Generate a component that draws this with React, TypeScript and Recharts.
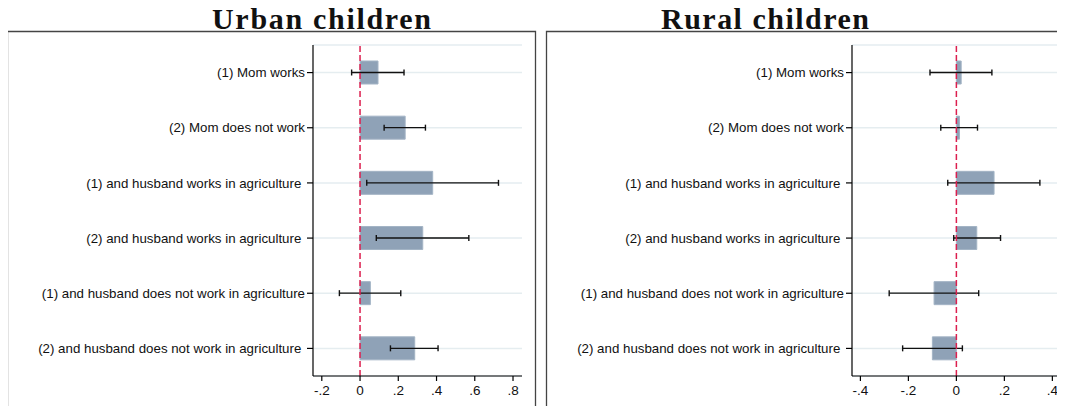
import React from 'react'
import {
  BarChart, Bar, XAxis, YAxis, CartesianGrid, ReferenceLine, ErrorBar
} from 'recharts'

// ── Data ─────────────────────────────────────────────────────────────────────
const categories = [
  '(1) Mom works',
  '(2) Mom does not work',
  '(1) and husband works in agriculture ',
  '(2) and husband works in agriculture ',
  '(1) and husband does not work in agriculture',
  '(2) and husband does not work in agriculture ',
]

const urbanCoef = [0.094, 0.236, 0.38, 0.328, 0.054, 0.286]
const urbanLow = [-0.044, 0.126, 0.035, 0.085, -0.108, 0.159]
const urbanHigh = [0.23, 0.342, 0.724, 0.569, 0.213, 0.408]

const ruralCoef = [0.02, 0.013, 0.157, 0.085, -0.093, -0.1]
const ruralLow = [-0.11, -0.065, -0.036, -0.011, -0.28, -0.224]
const ruralHigh = [0.148, 0.088, 0.348, 0.184, 0.093, 0.025]

const urbanTicks = [-0.2, 0, 0.2, 0.4, 0.6, 0.8]
const ruralTicks = [-0.4, -0.2, 0, 0.2, 0.4]

const buildRows = (coef: number[], low: number[], high: number[]) =>
  categories.map((label, i) => ({
    label,
    coef: coef[i],
    err: [coef[i] - low[i], high[i] - coef[i]],
  }))

const urbanRows = buildRows(urbanCoef, urbanLow, urbanHigh)
const ruralRows = buildRows(ruralCoef, ruralLow, ruralHigh)

const SANS = '"Liberation Sans", Arial, sans-serif'
const SERIF = '"Liberation Serif", serif'

// Stata style: ".2", "-.4", "0"
const fmt = (v: number) => {
  if (v === 0) return '0'
  const s = Math.abs(v).toFixed(1).replace(/^0/, '')
  return v < 0 ? '-' + s : s
}

const CatTick = ({ x, y, payload }: any) => (
  <text x={x} y={y} dy="0.355em" textAnchor="end" fontSize={13.3} fontFamily={SANS}
    fill="#111" style={{ whiteSpace: 'pre' }}>
    {payload.value}
  </text>
)

interface PanelProps {
  rows: any[]
  domain: [number, number]
  ticks: number[]
  width: number
  axisWidth: number
  right: number
}

function CoefPanel({ rows, domain, ticks, width, axisWidth, right }: PanelProps) {
  return (
    <BarChart width={width} height={414} layout="vertical" data={rows} barSize={23}
      margin={{ top: 45, right, bottom: 0, left: 0 }}>
      <CartesianGrid vertical={false} stroke="#e5edf0" strokeWidth={1.5} />
      <XAxis type="number" domain={domain} ticks={ticks} interval={0} height={38}
        tickSize={5} tickMargin={4} tickFormatter={fmt}
        axisLine={{ stroke: '#000', strokeWidth: 1.2 }} tickLine={{ stroke: '#000', strokeWidth: 1.2 }}
        tick={{ fontSize: 13.5, fill: '#111', fontFamily: SANS }} />
      <YAxis type="category" dataKey="label" width={axisWidth} interval={0}
        tickSize={6} tickMargin={2} tick={<CatTick />}
        axisLine={{ stroke: '#000', strokeWidth: 1.2 }} tickLine={{ stroke: '#000', strokeWidth: 1.2 }} />
      <Bar dataKey="coef" fill="#8fa2b7" stroke="#a3b4c5" strokeWidth={1} isAnimationActive={false}>
        <ErrorBar dataKey="err" direction="x" width={3} stroke="#111" strokeWidth={1.4} />
      </Bar>
      <ReferenceLine x={0} stroke="#dc1f4f" strokeWidth={1.5} strokeDasharray="6 3" />
    </BarChart>
  )
}

export default function App() {
  return (
    <div style={{ position: 'relative', width: 1065, height: 414, margin: -8, overflow: 'hidden', background: '#fff' }}>
      {/* panel frames and titles */}
      <svg width={1065} height={414} style={{ position: 'absolute', left: 0, top: 0 }}>
        <path d="M7.5 420 V31.5 H535.5 V420" fill="none" stroke="#444" strokeWidth={1.3} />
        <path d="M546.5 420 V31.5 H1070" fill="none" stroke="#444" strokeWidth={1.3} />
        <text x={212} y={28.5} fontSize={30} fontWeight="bold" fontFamily={SERIF}
          fill="#111" textLength={219} lengthAdjust="spacing">Urban children</text>
        <text x={661} y={28.5} fontSize={30} fontWeight="bold" fontFamily={SERIF}
          fill="#111" textLength={208} lengthAdjust="spacing">Rural children</text>
      </svg>
      <div style={{ position: 'absolute', left: 0, top: 0 }}>
        <CoefPanel rows={urbanRows} domain={[-0.246, 0.847]} ticks={urbanTicks}
          width={540} axisWidth={313} right={18} />
      </div>
      <div style={{ position: 'absolute', left: 540, top: 0 }}>
        <CoefPanel rows={ruralRows} domain={[-0.435, 0.436]} ticks={ruralTicks}
          width={525} axisWidth={312} right={4} />
      </div>
    </div>
  )
}
